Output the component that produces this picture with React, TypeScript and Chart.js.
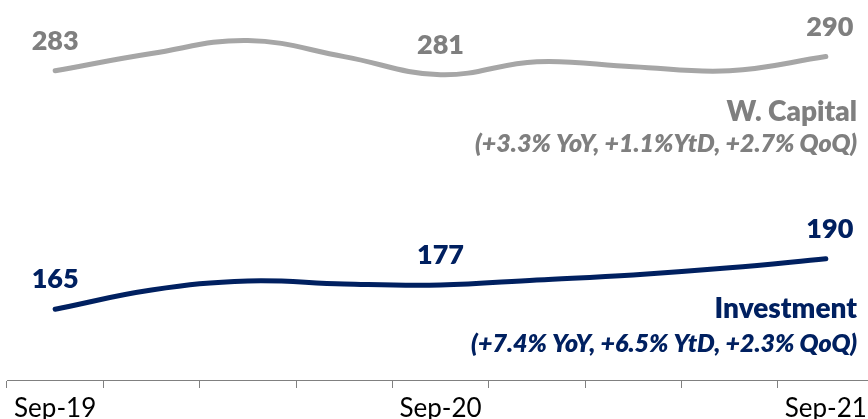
import { useEffect, useRef } from 'react';
import { Chart, registerables } from 'chart.js';
Chart.register(...registerables);

const categories = ['Sep-19', 'Dec-19', 'Mar-20', 'Jun-20', 'Sep-20', 'Dec-20', 'Mar-21', 'Jun-21', 'Sep-21'];
const tickLabels = ['Sep-19', '', '', '', 'Sep-20', '', '', '', 'Sep-21'];
const wCapital = [283, 291.5, 298, 290, 281, 287.5, 285, 283, 290];
const investment = [165, 174.5, 179, 177.5, 177, 179.5, 182, 185.5, 190];
const labeledIdx = [0, 4, 8];
const wCapitalTitle = 'W. Capital';
const wCapitalNote = '(+3.3% YoY, +1.1%YtD, +2.7% QoQ)';
const investmentTitle = 'Investment';
const investmentNote = '(+7.4% YoY, +6.5% YtD, +2.3% QoQ)';

const GRAY_LINE = '#A6A6A6';
const GRAY_TEXT = '#7F7F7F';
const NAVY = '#002060';
const FONT = 'Lato, "Noto Sans", sans-serif';
const W = '800';

const textPlugin = {
  id: 'textPlugin',
  afterDatasetsDraw(chart: any) {
    const ctx = chart.ctx;
    ctx.save();
    const colors = [GRAY_TEXT, NAVY];
    chart.data.datasets.forEach((ds: any, di: number) => {
      const meta = chart.getDatasetMeta(di);
      ctx.fillStyle = colors[di];
      ctx.font = `${W} 27px ${FONT}`;
      ctx.textAlign = 'center';
      ctx.textBaseline = 'alphabetic';
      labeledIdx.forEach((i) => {
        const pt = meta.data[i];
        const dx = i === 8 ? 4 : 0;
        ctx.fillText(String(Math.round(ds.data[i])), pt.x + dx, pt.y - 21);
      });
    });
    const right = 857;
    ctx.textAlign = 'right';
    ctx.fillStyle = GRAY_TEXT;
    ctx.font = `${W} 28px ${FONT}`;
    ctx.fillText(wCapitalTitle, right, 121);
    ctx.font = `italic ${W} 25px ${FONT}`;
    ctx.fillText(wCapitalNote, right, 152);
    ctx.fillStyle = NAVY;
    ctx.font = `${W} 28px ${FONT}`;
    ctx.fillText(investmentTitle, right, 318);
    ctx.font = `italic ${W} 25px ${FONT}`;
    ctx.fillText(investmentNote, right, 352);
    ctx.restore();
  },
};

export default function App() {
  const ref = useRef<HTMLCanvasElement>(null);
  useEffect(() => {
    document.body.style.margin = '0';
    const chart = new Chart(ref.current!, {
      type: 'line',
      data: {
        labels: categories,
        datasets: [
          {
            label: wCapitalTitle,
            data: wCapital,
            borderColor: GRAY_LINE,
            borderWidth: 5,
            borderCapStyle: 'round',
            pointRadius: 0,
            tension: 0.4,
            fill: false,
          },
          {
            label: investmentTitle,
            data: investment,
            borderColor: NAVY,
            borderWidth: 5,
            borderCapStyle: 'round',
            pointRadius: 0,
            tension: 0.4,
            fill: false,
          },
        ],
      },
      options: {
        animation: false,
        responsive: false,
        devicePixelRatio: 1,
        layout: { padding: { left: 7, right: 6, top: 0, bottom: 0 } },
        plugins: { legend: { display: false }, tooltip: { enabled: false } },
        scales: {
          x: {
            offset: true,
            afterFit: (scale: any) => {
              scale.height = 39;
            },
            grid: {
              display: true,
              drawOnChartArea: false,
              drawTicks: true,
              tickLength: 8,
              color: '#808080',
              offset: true,
            },
            border: { display: true, color: '#808080', width: 1 },
            ticks: {
              autoSkip: false,
              maxRotation: 0,
              padding: 5,
              color: '#000000',
              font: { family: FONT, size: 26 },
              labelOffset: (c: any) => (c.index === 0 ? 18 : 0),
              callback: (_v: any, i: number) => tickLabels[i],
            },
          },
          y: { display: false, min: 130, max: 318 },
        },
      },
      plugins: [textPlugin],
    });
    return () => chart.destroy();
  }, []);
  return (
    <div style={{ width: 868, height: 419, overflow: 'hidden', position: 'relative' }}>
      <canvas ref={ref} width={880} height={419} style={{ display: 'block' }} />
    </div>
  );
}
